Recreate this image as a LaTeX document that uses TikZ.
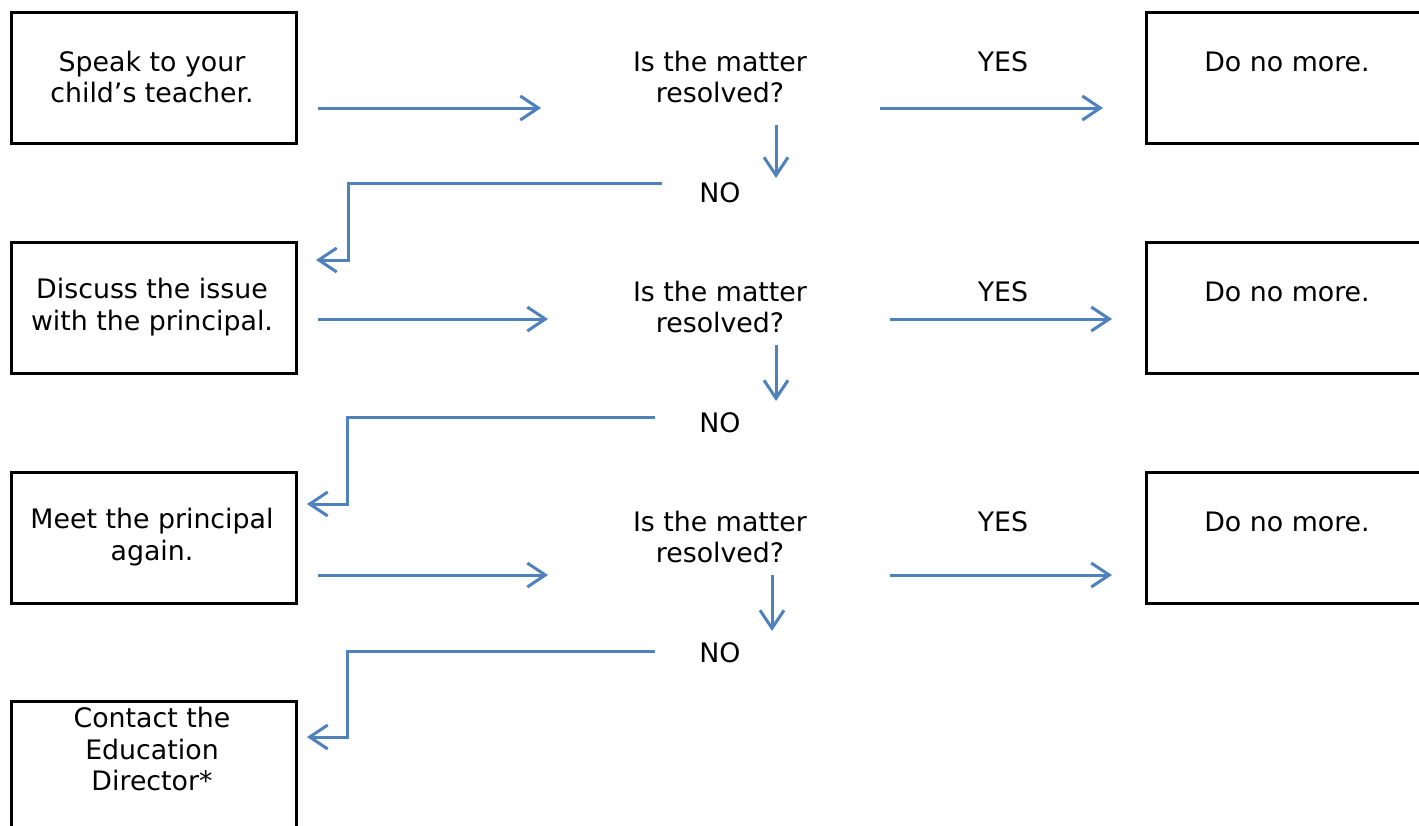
\documentclass[tikz,border=0pt]{standalone}
\usepackage{fontspec}
\setmainfont{DejaVu Sans}
\usetikzlibrary{arrows.meta}
\definecolor{ablue}{HTML}{4F81BD}
\begin{document}
\begin{tikzpicture}[x=1pt,y=-1pt,
  box/.style={draw=black,line width=3.2pt,rectangle,inner sep=0pt,anchor=north west},
  txt/.style={font=\fontsize{26.8}{31.5}\selectfont,align=center,inner sep=0pt},
  arr/.style={draw=ablue,line width=3pt,-{Straight Barb[length=18pt,width=24pt]}}]
\useasboundingbox (0,0) rectangle (1419,825);

% boxes
\node[box,minimum width=285pt,minimum height=131pt] (b1) at (10,11) {};
\node[box,minimum width=285pt,minimum height=131pt] (b2) at (10,241) {};
\node[box,minimum width=285pt,minimum height=131pt] (b3) at (10,471) {};
\node[box,minimum width=285pt,minimum height=140pt] (b4) at (10,700) {};
\node[box,minimum width=285pt,minimum height=131pt] (d1) at (1145,11) {};
\node[box,minimum width=285pt,minimum height=131pt] (d2) at (1145,241) {};
\node[box,minimum width=285pt,minimum height=131pt] (d3) at (1145,471) {};

% texts
\node[txt] (t1) at (152,77) {Speak to your\\child’s teacher.};
\node[txt] (t2) at (152,307) {Discuss the issue\\with the principal.};
\node[txt] (t3) at (152,537) {Meet the principal\\again.};
\node[txt] (t4) at (152,749) {Contact the\\Education\\Director*};
\node[txt] (q1) at (720,77) {Is the matter\\resolved?};
\node[txt] (q2) at (720,307) {Is the matter\\resolved?};
\node[txt] (q3) at (720,537) {Is the matter\\resolved?};
\node[txt] (y1) at (1003,62) {YES};
\node[txt] (y2) at (1003,292) {YES};
\node[txt] (y3) at (1003,522) {YES};
\node[txt] (n1) at (720,193) {NO};
\node[txt] (n2) at (720,423) {NO};
\node[txt] (n3) at (720,653) {NO};
\node[txt] (x1) at (1287,62) {Do no more.};
\node[txt] (x2) at (1287,292) {Do no more.};
\node[txt] (x3) at (1287,522) {Do no more.};

% connector end points
\coordinate (a1s) at (318,108); \coordinate (a1e) at (541,108);
\coordinate (c1s) at (880,108); \coordinate (c1e) at (1103,108);
\coordinate (v1s) at (776,125); \coordinate (v1e) at (776,178);
\coordinate (e1s) at (662,183); \coordinate (e1c) at (348,260); \coordinate (e1e) at (316,260);

\coordinate (a2s) at (318,319); \coordinate (a2e) at (548,319);
\coordinate (c2s) at (890,319); \coordinate (c2e) at (1112,319);
\coordinate (v2s) at (776,345); \coordinate (v2e) at (776,401);
\coordinate (e2s) at (655,417); \coordinate (e2c) at (347,504); \coordinate (e2e) at (307,504);

\coordinate (a3s) at (318,575); \coordinate (a3e) at (548,575);
\coordinate (c3s) at (890,575); \coordinate (c3e) at (1112,575);
\coordinate (v3s) at (772,575); \coordinate (v3e) at (772,631);
\coordinate (e3s) at (655,651); \coordinate (e3c) at (347,737); \coordinate (e3e) at (307,737);

\draw[arr] (a1s) -- (a1e);
\draw[arr] (c1s) -- (c1e);
\draw[arr] (v1s) -- (v1e);
\draw[arr] (e1s) -| (e1c) -- (e1e);
\draw[arr] (a2s) -- (a2e);
\draw[arr] (c2s) -- (c2e);
\draw[arr] (v2s) -- (v2e);
\draw[arr] (e2s) -| (e2c) -- (e2e);
\draw[arr] (a3s) -- (a3e);
\draw[arr] (c3s) -- (c3e);
\draw[arr] (v3s) -- (v3e);
\draw[arr] (e3s) -| (e3c) -- (e3e);
\end{tikzpicture}
\end{document}
